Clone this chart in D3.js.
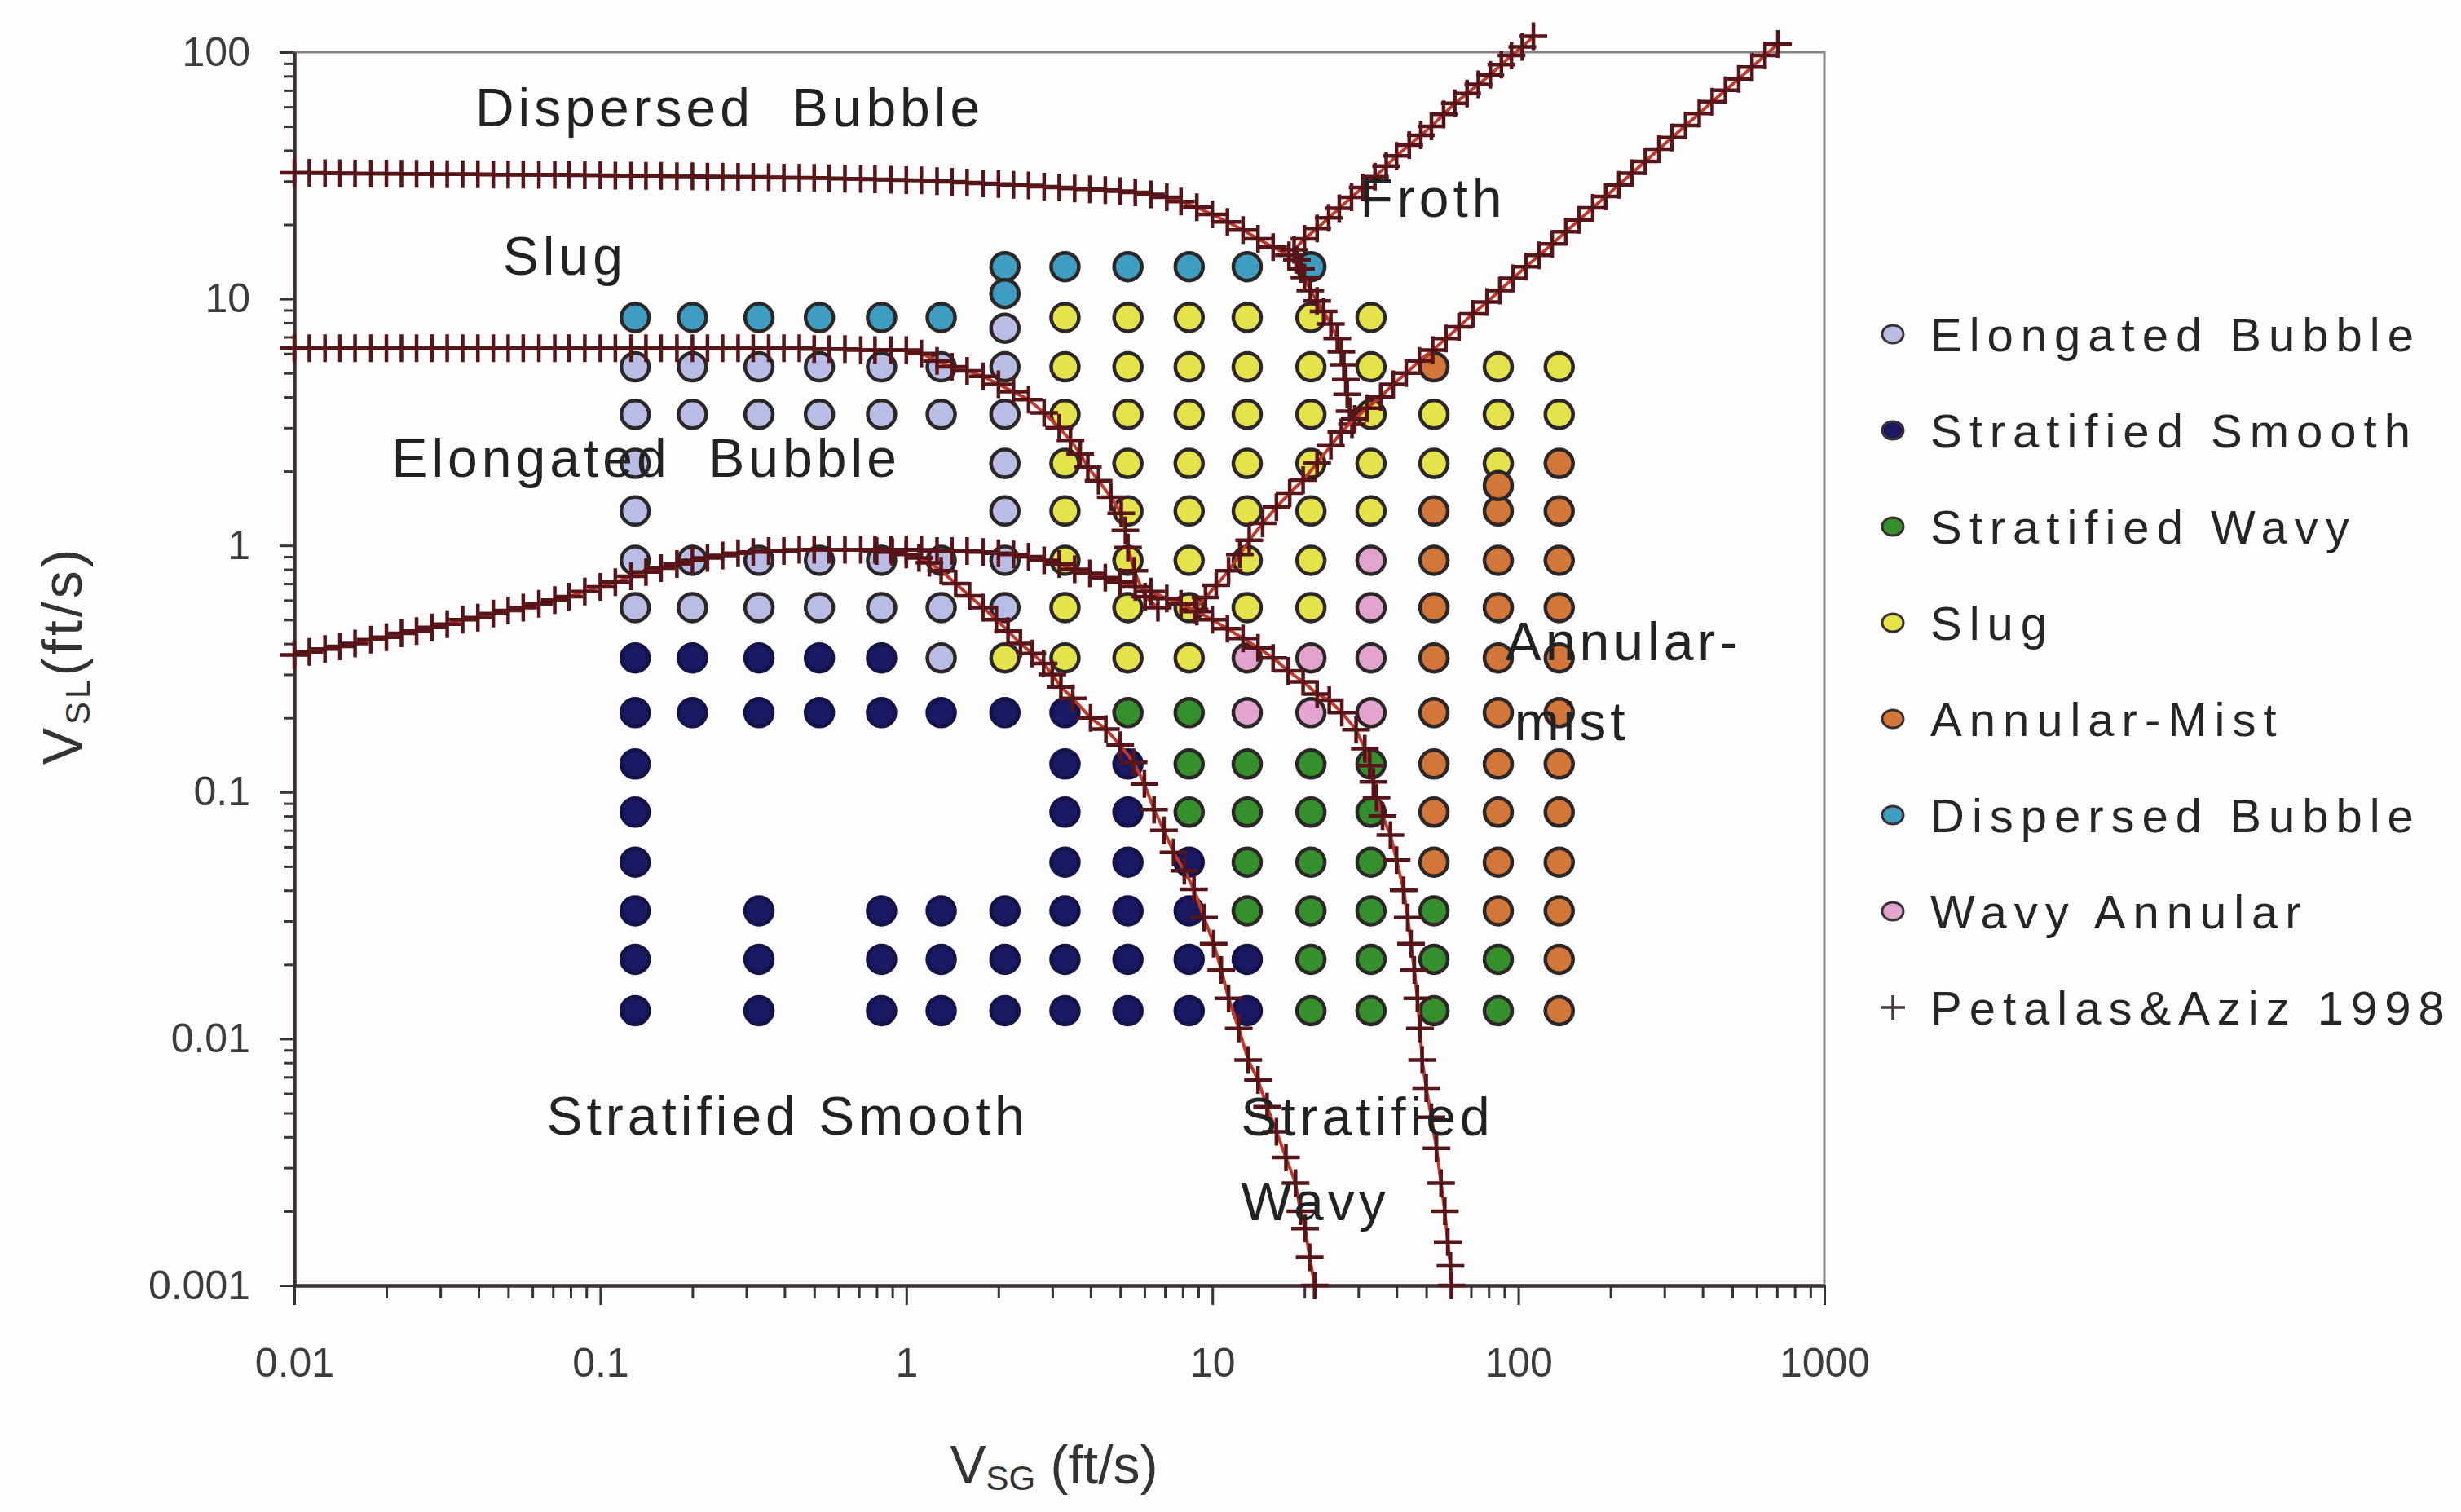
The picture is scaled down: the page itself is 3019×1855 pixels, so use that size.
<!DOCTYPE html>
<html>
<head>
<meta charset="utf-8">
<script src="https://cdnjs.cloudflare.com/ajax/libs/d3/7.8.5/d3.min.js"></script>
<style>
  body { margin: 0; background: #fdfdfd; }
  svg { font-family: "Liberation Sans", Arial, Helvetica, sans-serif; }
  .lbl { white-space: pre; }
</style>
</head>
<body>
<script>
// measured superficial velocities (ft/s), one entry per grid column / row
const vsgGrid = [0.13, 0.2, 0.33, 0.52, 0.83, 1.3, 2.1, 3.3, 5.3, 8.4, 13, 21, 33, 53, 86, 136];
const vslGrid = [13.5, 8.4, 5.3, 3.4, 2.15, 1.38, 0.87, 0.56, 0.35, 0.21, 0.13, 0.083, 0.052, 0.033, 0.021, 0.013];

// observed regime per cell (row = vslGrid, column = vsgGrid), "." = no run
// E elongated bubble, S strat smooth, W strat wavy, G slug, A annular-mist, D dispersed bubble, N wavy annular
const regimeRows = [
  "......DDDDDD....",
  "DDDDDD.GGGGGG...",
  "EEEEEEEGGGGGGAGG",
  "EEEEEEEGGGGGGGGG",
  "E.....EGGGGGGGGA",
  "E.....EGGGGGGAAA",
  "EEEEEEEGGGGGNAAA",
  "EEEEEEEGGGGGNAAA",
  "SSSSSEGGGGNNNAAA",
  "SSSSSSSSWWNNNAAA",
  "S......SSWWWWAAA",
  "S......SSWWWWAAA",
  "S......SSSWWWAAA",
  "S.S.SSSSSSWWWWAA",
  "S.S.SSSSSSSWWWWA",
  "S.S.SSSSSSSWWWWA"
];
// runs that sit off the regular grid
const extraRuns = [["D", 2.1, 10.5], ["E", 2.1, 7.6], ["A", 86, 1.75]];

const regimeCodes = ["E", "S", "W", "G", "A", "D", "N"];
const regimeNames = ["Elongated Bubble", "Stratified Smooth", "Stratified Wavy", "Slug",
  "Annular-Mist", "Dispersed Bubble", "Wavy Annular"];
const regimeFill = ["#b9bde6", "#1b1862", "#358f2c", "#e4e34c", "#d2763a", "#3f9dc2", "#e2a3cf"];

// Petalas & Aziz (1998) transition boundaries, [vsg, vsl]
const boundaryDispersed = [[0.01,32.4],[0.0112,32.4],[0.0126,32.3],[0.0141,32.3],[0.0158,32.2],[0.0178,32.2],[0.02,32.2],
  [0.0224,32.1],[0.0251,32.1],[0.0282,32],[0.0316,32],[0.0355,32],[0.0398,32],[0.0447,31.9],[0.05,31.9],[0.056,31.9],
  [0.063,31.8],[0.071,31.8],[0.079,31.8],[0.089,31.7],[0.1,31.7],[0.112,31.6],[0.126,31.6],[0.141,31.5],[0.158,31.5],
  [0.178,31.4],[0.2,31.4],[0.224,31.3],[0.251,31.3],[0.282,31.2],[0.316,31.2],[0.355,31.1],[0.398,31],[0.447,31],
  [0.5,30.9],[0.56,30.8],[0.63,30.7],[0.71,30.6],[0.79,30.5],[0.89,30.4],[1.0,30.3],[1.12,30.2],[1.26,30],[1.41,29.8],
  [1.58,29.6],[1.78,29.4],[2.0,29.2],[2.24,29],[2.51,28.8],[2.82,28.5],[3.16,28.3],[3.55,28],[3.98,27.8],[4.47,27.6],
  [5.0,27.3],[5.6,27],[6.3,26.5],[7.1,25.8],[7.9,24.8],[8.9,23.5],[10,22],[11.2,20.5],[12.6,19],[14.1,17.5],
  [15.8,16.2],[17.8,15]];

const boundaryFrothLeft = [[112,116],[103,105],[95,97],[88,89],[81,81],[74,74],[68,68],[62,62],[57,56],[52,50],
  [48,46],[44,42],[40,38],[37,34.5],[34,31.3],[31,28.3],[28.5,25.8],[26,23.3],[24,21.3],[22,19.3],[20,17.5],
  [18.5,15.8],[18.9,14.4],[19.5,13.2],[20,12.2],[20.9,10.8],[22,9.8],[23.1,8.9],[24.4,7.9],[25.6,6.9],[26.4,6.1],
  [26.9,5.4],[27.3,4.7],[27.6,4.1],[28.1,3.5],[28.6,3.1]];

const boundaryFrothRight = [[705,108],[640,97],[580,87],[525,78],[475,70],[430,63],[390,56.4],[352,50.4],[318,45.1],
  [288,40.4],[260,36.1],[235,32.3],[213,29],[193,26],[175,23.4],[158,20.9],[143,18.7],[129,16.7],[117,15],[106,13.5],
  [96,12.1],[87,10.8],[79,9.7],[71,8.7],[64,7.7],[58,6.9],[52.5,6.2],[47.5,5.6],[43,5.0],[39,4.5],[35.5,4.0],[32,3.6],
  [29.2,3.26],[26.4,2.88],[24.4,2.54],[22,2.16],[19.8,1.84],[17.9,1.63],[16.2,1.43],[14.6,1.23],[13.2,1.05],
  [12.3,0.92],[11.3,0.79],[10.3,0.69],[9.5,0.615],[8.75,0.55]];

const boundaryElongated = [[0.01,6.3],[0.0112,6.3],[0.0126,6.3],[0.0141,6.3],[0.0158,6.3],[0.0178,6.3],[0.02,6.3],
  [0.0224,6.3],[0.0251,6.3],[0.0282,6.3],[0.0316,6.3],[0.0355,6.3],[0.0398,6.3],[0.0447,6.3],[0.05,6.3],[0.056,6.3],
  [0.063,6.3],[0.071,6.3],[0.079,6.3],[0.089,6.3],[0.1,6.3],[0.112,6.3],[0.126,6.3],[0.141,6.3],[0.158,6.3],
  [0.178,6.3],[0.2,6.3],[0.224,6.3],[0.251,6.3],[0.282,6.3],[0.316,6.3],[0.355,6.3],[0.398,6.3],[0.447,6.3],
  [0.5,6.25],[0.56,6.25],[0.63,6.25],[0.71,6.2],[0.79,6.2],[0.89,6.2],[1.0,6.2],[1.12,6.0],[1.26,5.6],[1.41,5.3],
  [1.58,5.1],[1.78,4.85],[2.0,4.5],[2.24,4.2],[2.51,3.9],[2.82,3.45],[3.16,3.0],[3.44,2.67],[3.7,2.35],[3.92,2.08],
  [4.25,1.83],[4.66,1.57],[5.04,1.35],[5.2,1.15],[5.3,0.98],[5.56,0.79],[6.03,0.62],[6.64,0.56]];

const boundaryStratified = [[0.01,0.36],[0.0112,0.37],[0.0126,0.38],[0.0141,0.39],[0.0158,0.4],[0.0178,0.415],
  [0.02,0.425],[0.0224,0.44],[0.0251,0.45],[0.0282,0.465],[0.0316,0.48],[0.0355,0.5],[0.0398,0.51],[0.0447,0.53],
  [0.05,0.545],[0.056,0.56],[0.063,0.58],[0.071,0.6],[0.079,0.62],[0.089,0.65],[0.1,0.68],[0.112,0.71],[0.126,0.75],
  [0.141,0.78],[0.158,0.81],[0.178,0.84],[0.2,0.87],[0.224,0.89],[0.251,0.91],[0.282,0.93],[0.316,0.94],[0.355,0.95],
  [0.398,0.95],[0.447,0.96],[0.5,0.96],[0.56,0.96],[0.63,0.96],[0.71,0.96],[0.79,0.96],[0.89,0.96],[1.0,0.96],
  [1.12,0.96],[1.26,0.95],[1.41,0.95],[1.58,0.95],[1.78,0.94],[2.0,0.93],[2.24,0.92],[2.51,0.9],[2.82,0.87],
  [3.16,0.84],[3.55,0.8],[3.98,0.77],[4.47,0.74],[5.0,0.71],[5.6,0.68],[6.3,0.65],[7.1,0.61],[7.9,0.58],[8.9,0.54],
  [10,0.5],[11.2,0.46],[12.6,0.42],[14.1,0.385],[15.8,0.35],[17.7,0.31],[19.8,0.28],[22,0.25],[24.1,0.236],
  [26.5,0.21],[29.5,0.179],[31.5,0.15],[32.7,0.128],[33.6,0.11],[34.4,0.095],[36,0.08],[38.2,0.067],[40,0.053],
  [42.2,0.04],[43.5,0.031],[44.6,0.0243],[45.7,0.019],[46.8,0.0146],[47.7,0.011],[48.5,0.0082],[50,0.0063],
  [52,0.0048],[54,0.0036],[55.9,0.0026],[57.5,0.002],[58.8,0.0015],[60,0.0012],[60.5,0.001]];

const boundaryWavy = [[0.8,0.95],[0.9,0.94],[1.0,0.92],[1.1,0.89],[1.19,0.85],[1.3,0.79],[1.45,0.7],[1.61,0.625],
  [1.78,0.56],[1.97,0.5],[2.15,0.45],[2.36,0.4],[2.58,0.365],[2.81,0.332],[3.0,0.3],[3.2,0.267],[3.5,0.24],[4.0,0.2],
  [4.49,0.18],[5.0,0.155],[5.53,0.132],[6.0,0.108],[6.45,0.085],[6.95,0.07],[7.47,0.057],[8.1,0.048],[8.71,0.0404],
  [9.4,0.031],[10.1,0.0243],[10.7,0.019],[11.3,0.0146],[12.2,0.011],[13.1,0.0082],[14.1,0.0068],[15.1,0.0053],
  [16.2,0.0042],[17.4,0.0033],[18.7,0.0026],[19.4,0.002],[20.1,0.0017],[20.8,0.0013],[21.6,0.001]];

const xTickValues = [0.01, 0.1, 1, 10, 100, 1000];
const xTickLabels = ["0.01", "0.1", "1", "10", "100", "1000"];
const yTickValues = [0.001, 0.01, 0.1, 1, 10, 100];
const yTickLabels = ["0.001", "0.01", "0.1", "1", "10", "100"];

// region names written on the map, anchored at [vsg, vsl] of the text start
const regionText = ["Dispersed  Bubble", "Slug", "Elongated  Bubble", "Froth", "Annular-", "mist",
  "Stratified Smooth", "Stratified", "Wavy"];
const regionAnchor = [[0.039, 50], [0.048, 12.5], [0.0208, 1.9], [30.4, 21.5], [90.8, 0.343], [97, 0.163],
  [0.0667, 0.00408], [12.4, 0.00405], [12.4, 0.00184]];

const W = 3019, H = 1855;
const m = {left: 361, right: 2238, top: 64, bottom: 1577};

const x = d3.scaleLog().domain([0.01, 1000]).range([m.left, m.right]);
const y = d3.scaleLog().domain([0.001, 100]).range([m.bottom, m.top]);

const svg = d3.select("body").append("svg").attr("width", W).attr("height", H);
svg.append("rect").attr("width", W).attr("height", H).attr("fill", "#fdfdfd");

// thin frame on top and right
svg.append("path")
  .attr("d", `M${m.left},${m.top}H${m.right}V${m.bottom}`)
  .attr("fill", "none").attr("stroke", "#8c8088").attr("stroke-width", 3);

// axes
const isMajor = d => Math.abs(Math.log10(d) - Math.round(Math.log10(d))) < 1e-6;

const gx = svg.append("g").attr("transform", `translate(0,${m.bottom})`);
gx.append("g").call(d3.axisBottom(x).tickValues(x.ticks().filter(d => !isMajor(d)))
  .tickFormat("").tickSize(16).tickSizeOuter(0));
gx.append("g").call(d3.axisBottom(x).tickValues(xTickValues)
  .tickFormat((d, i) => xTickLabels[i]).tickSize(24).tickSizeOuter(0).tickPadding(52));

const gy = svg.append("g").attr("transform", `translate(${m.left},0)`);
gy.append("g").call(d3.axisLeft(y).tickValues(y.ticks().filter(d => !isMajor(d)))
  .tickFormat("").tickSize(12).tickSizeOuter(0));
gy.append("g").call(d3.axisLeft(y).tickValues(yTickValues)
  .tickFormat((d, i) => yTickLabels[i]).tickSize(18).tickSizeOuter(0).tickPadding(36));

svg.selectAll(".domain").attr("stroke", "#3a2f33").attr("stroke-width", 4);
svg.selectAll(".tick line").attr("stroke", "#3a2f33").attr("stroke-width", 3);
svg.selectAll(".tick text").attr("font-size", 50).attr("fill", "#3c3c3c")
  .attr("font-family", "'Liberation Sans', Arial, sans-serif");

// axis titles
const xt = svg.append("text").attr("x", 1293).attr("y", 1820).attr("text-anchor", "middle")
  .attr("font-size", 66).attr("fill", "#333");
xt.append("tspan").text("V");
xt.append("tspan").attr("font-size", 42).attr("dy", 8).text("SG");
xt.append("tspan").attr("dy", -8).text(" (ft/s)");

const yt = svg.append("text").attr("transform", "translate(100,804) rotate(-90)")
  .attr("text-anchor", "middle").attr("font-size", 68).attr("fill", "#333").attr("letter-spacing", 4);
yt.append("tspan").text("V");
yt.append("tspan").attr("font-size", 42).attr("dy", 10).text("SL");
yt.append("tspan").attr("dy", -10).text("(ft/s)");

// experimental runs
const runs = [];
regimeRows.forEach((row, i) => {
  row.split("").forEach((c, j) => {
    if (c !== ".") runs.push({code: c, vsg: vsgGrid[j], vsl: vslGrid[i]});
  });
});
extraRuns.forEach(r => runs.push({code: r[0], vsg: r[1], vsl: r[2]}));

const fillOf = code => regimeFill[regimeCodes.indexOf(code)];

svg.append("g").selectAll("circle").data(runs).enter().append("circle")
  .attr("cx", d => x(d.vsg))
  .attr("cy", d => y(d.vsl))
  .attr("r", 17)
  .attr("fill", d => fillOf(d.code))
  .attr("stroke", d => d.code === "S" ? "#14124a" : "#2c2626")
  .attr("stroke-width", 4.5);

// Petalas & Aziz boundaries: red line with dense dark "+" markers
const boundaries = [boundaryDispersed, boundaryFrothLeft, boundaryFrothRight, boundaryElongated,
  boundaryStratified, boundaryWavy];
const line = d3.line().x(d => x(d[0])).y(d => y(d[1]));

const gb = svg.append("g");
boundaries.forEach(b => {
  gb.append("path").attr("d", line(b)).attr("fill", "none")
    .attr("stroke", "#c0392b").attr("stroke-width", 4);
  gb.append("g").selectAll("path").data(b).enter().append("path")
    .attr("transform", d => `translate(${x(d[0])},${y(d[1])})`)
    .attr("d", "M-17,0H17M0,-17V17")
    .attr("stroke", "#571419").attr("stroke-width", 4.5).attr("fill", "none");
});

// region labels
svg.append("g").selectAll("text").data(regionText).enter().append("text")
  .attr("class", "lbl")
  .attr("x", (d, i) => x(regionAnchor[i][0]))
  .attr("y", (d, i) => y(regionAnchor[i][1]))
  .attr("font-size", 66).attr("letter-spacing", 5).attr("fill", "#222")
  .text(d => d);

// legend
const legendNames = regimeNames.concat(["Petalas&Aziz 1998"]);
const lg = svg.append("g").attr("transform", "translate(2322,410)");
const item = lg.selectAll("g").data(legendNames).enter().append("g")
  .attr("transform", (d, i) => `translate(0,${i * 118})`);
item.filter((d, i) => i < regimeNames.length).append("ellipse")
  .attr("rx", 13).attr("ry", 11)
  .attr("fill", (d, i) => regimeFill[i])
  .attr("stroke", "#3a3232").attr("stroke-width", 3);
item.filter((d, i) => i === regimeNames.length).append("path")
  .attr("d", "M-15,0H15M0,-15V15").attr("stroke", "#4a3a3a").attr("stroke-width", 3.5);
item.append("text").attr("x", 46).attr("y", 21)
  .attr("font-size", 58).attr("letter-spacing", 9).attr("fill", "#262626")
  .text(d => d);
</script>
</body>
</html>
